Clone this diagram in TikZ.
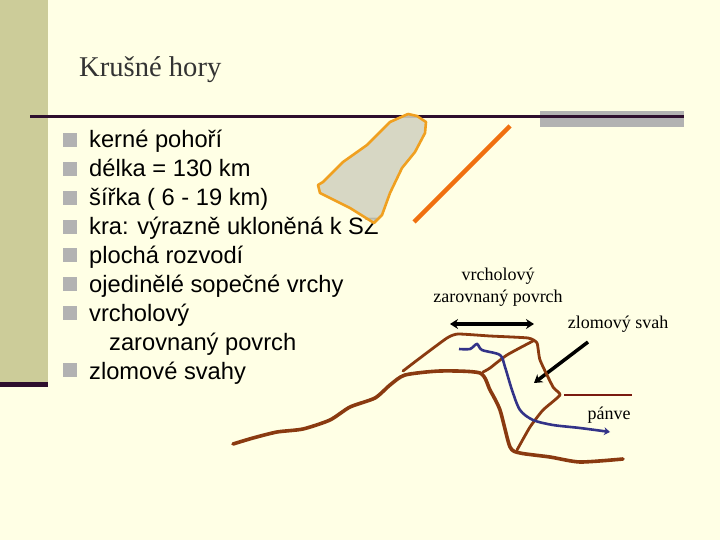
\documentclass[tikz,border=0pt]{standalone}
\usepackage{fontspec}
\setmainfont{Liberation Serif}
\setsansfont{Liberation Sans}
\usetikzlibrary{arrows.meta}
\definecolor{pagecol}{HTML}{FFFFE5}
\definecolor{bandcol}{HTML}{CCCC99}
\definecolor{rulecol}{HTML}{2E0F2E}
\definecolor{bulletcol}{HTML}{B2B2B2}
\definecolor{rockcol}{HTML}{8A3A10}
\definecolor{rivercol}{HTML}{333388}
\definecolor{basincol}{HTML}{7A1A10}
\definecolor{blockcol}{HTML}{D2D2C0}
\definecolor{edgecol}{HTML}{F0A020}
\definecolor{faultcol}{HTML}{F07010}
\tikzset{
  bulletbox/.style={fill=bulletcol,minimum size=13.5pt,inner sep=0pt,shape=rectangle},
  bodytxt/.style={anchor=base west,inner sep=0pt,font=\sffamily\fontsize{23.7}{27}\selectfont},
  notetxt/.style={inner sep=0pt,font=\fontsize{18}{22}\selectfont},
  rockline/.style={rockcol,line width=3.6pt,line cap=round,line join=round},
  faintline/.style={rockcol,line width=2.8pt,line cap=round,line join=round},
  blackarrow/.style={line width=3.5pt,black,-{Stealth[length=8pt,width=10pt]}}
}
\begin{document}
\begin{tikzpicture}[x=1pt,y=-1pt]
\useasboundingbox (0,0) rectangle (720,540);
\fill[pagecol] (0,0) rectangle (720,540);

\fill[bandcol] (0,0) rectangle (48,384);
\fill[rulecol] (0,382) rectangle (48,387);
\fill[bulletcol] (540,111) rectangle (684,127);
\draw[rulecol,line width=3pt] (30,117) -- (684,117);

\draw (79,77) node[anchor=base west,inner sep=0pt,text=black!80,font=\fontsize{28.6}{32}\selectfont] (title) {Krušné hory};

\draw (70,140) node[bulletbox] (b1) {};
\draw (70,169) node[bulletbox] (b2) {};
\draw (70,198) node[bulletbox] (b3) {};
\draw (70,227) node[bulletbox] (b4) {};
\draw (70,255) node[bulletbox] (b5) {};
\draw (70,284) node[bulletbox] (b6) {};
\draw (70,313) node[bulletbox] (b7) {};
\draw (70,370) node[bulletbox] (b8) {};

\draw (89,148) node[bodytxt] (kerne) {kerné pohoří};
\draw (89,177) node[bodytxt] (delka) {délka = 130 km};
\draw (89,206) node[bodytxt] (sirka) {šířka ( 6 - 19 km)};
\draw (89,235) node[bodytxt] (kra) {kra: výrazně ukloněná k SZ};
\draw (89,263) node[bodytxt] (rozvodi) {plochá rozvodí};
\draw (89,292) node[bodytxt] (sopecne) {ojedinělé sopečné vrchy};
\draw (89,321) node[bodytxt] (vrcholovy) {vrcholový};
\draw (109,350) node[bodytxt] (zarovnany) {zarovnaný povrch};
\draw (89,379) node[bodytxt] (svahy) {zlomové svahy};

% block seen from above
\filldraw[draw=edgecol,line width=2.6pt,line join=round,fill=blockcol,fill opacity=.88]
  (408,114) -- (417,116) -- (426,122) -- (425,133) -- (415,152) -- (402,168) -- (390,193) -- (382,215)
  -- (374,223) -- (350,208) -- (320,193) -- (318,185) -- (323,182) -- (343,162) -- (367,145) -- (390,122) -- cycle;
\draw[faultcol,line width=4.5pt] (414,222) -- (510,126);

\draw (498,276) node[notetxt] (lblTop) {vrcholový};
\draw (498,298) node[notetxt] (lblFlat) {zarovnaný povrch};
\draw (618,324) node[notetxt] (lblSlope) {zlomový svah};
\draw (609,415) node[notetxt] (lblBasin) {pánve};

\coordinate (flatL) at (450,324);
\coordinate (flatR) at (534,324);
\coordinate (slopeA) at (588,342);
\coordinate (slopeB) at (534,383);
\draw[blackarrow,{Stealth[length=8pt,width=10pt]}-{Stealth[length=8pt,width=10pt]}] (flatL) -- (flatR);
\draw[blackarrow] (slopeA) -- (slopeB);

% profile
\draw[rockline] plot[smooth,tension=.4] coordinates {(233,444) (253,438) (277,432) (303,429) (330,420) (350,407)
  (375,398) (390,385) (405,375) (440,371) (480,373) (490,390) (500,410) (510,447) (520,453)
  (550,457) (580,462) (623,459)};
\draw[faintline] plot[smooth,tension=.3] coordinates {(403,371) (420,358) (447,338) (458,334) (490,336) (528,338)
  (537,343) (540,360) (553,387) (560,395) (543,410) (530,427) (517,450)};
\draw[faintline] plot[smooth,tension=.4] coordinates {(483,372) (490,368) (507,355) (533,341)};
\draw[basincol,line width=2.8pt] (564,395) -- (632,395);
\draw[rivercol,line width=2.6pt,-{Stealth[length=6pt,width=8pt]}] plot[smooth,tension=.5] coordinates {(459,349) (470,349)
  (477,344) (482,350) (500,355) (505,367) (512,390) (520,410) (533,420) (553,425) (580,428) (610,432)};
\end{tikzpicture}
\end{document}
